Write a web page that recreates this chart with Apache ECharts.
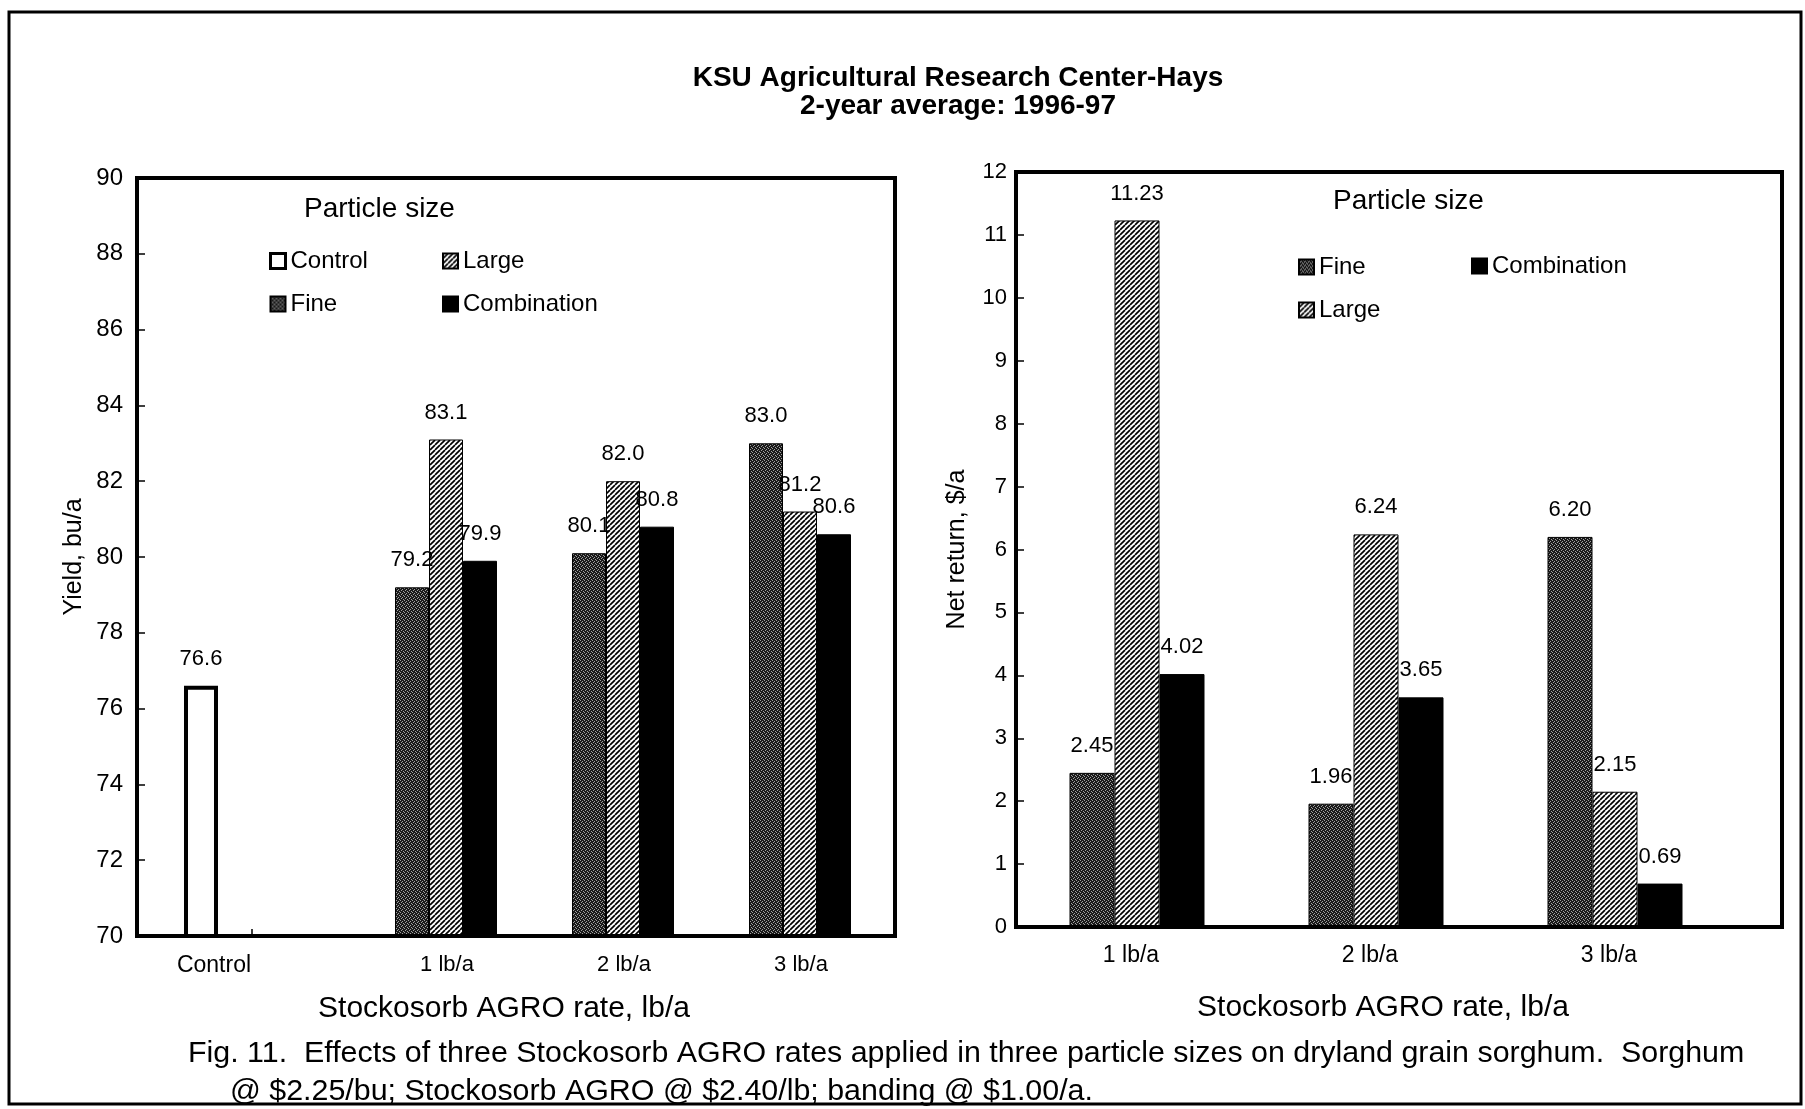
<!DOCTYPE html>
<html>
<head>
<meta charset="utf-8">
<script src="https://cdn.jsdelivr.net/npm/echarts@6/dist/echarts.min.js"></script>
<style>
html,body{margin:0;padding:0;background:#fff;}
#chart{width:1805px;height:1109px;}
</style>
</head>
<body>
<div id="chart"></div>
<script>
// ---- Data ----
const leftCategories = ['Control', '1 lb/a', '2 lb/a', '3 lb/a'];
const leftControl = [76.6, null, null, null];
const leftFine = [null, 79.2, 80.1, 83.0];
const leftLarge = [null, 83.1, 82.0, 81.2];
const leftCombination = [null, 79.9, 80.8, 80.6];

const rightCategories = ['1 lb/a', '2 lb/a', '3 lb/a'];
const rightFine = [2.45, 1.96, 6.20];
const rightLarge = [11.23, 6.24, 2.15];
const rightCombination = [4.02, 3.65, 0.69];

const leftYTicks = [70, 72, 74, 76, 78, 80, 82, 84, 86, 88, 90];
const rightYTicks = [0, 1, 2, 3, 4, 5, 6, 7, 8, 9, 10, 11, 12];

const titleLines = ['KSU Agricultural Research Center-Hays', '2-year average: 1996-97'];
const captionLines = [
  'Fig. 11.  Effects of three Stockosorb AGRO rates applied in three particle sizes on dryland grain sorghum.  Sorghum',
  '@ $2.25/bu; Stockosorb AGRO @ $2.40/lb; banding @ $1.00/a.'
];

// ---- Patterns ----
function hatchPattern() {
  const c = document.createElement('canvas');
  c.width = 5; c.height = 5;
  const g = c.getContext('2d');
  g.fillStyle = '#fff'; g.fillRect(0, 0, 5, 5);
  g.strokeStyle = '#000'; g.lineWidth = 1.7;
  [-5, 0, 5].forEach(o => { g.beginPath(); g.moveTo(o, 5); g.lineTo(o + 5, 0); g.stroke(); });
  return c;
}
function stipplePattern() {
  const c = document.createElement('canvas');
  c.width = 4; c.height = 4;
  const g = c.getContext('2d');
  g.fillStyle = '#1a1a1a'; g.fillRect(0, 0, 4, 4);
  g.fillStyle = '#a0a0a0';
  [[0, 0], [2, 1], [1, 2], [3, 3]].forEach(p => g.fillRect(p[0], p[1], 1, 1));
  return c;
}
const hatch = { image: hatchPattern(), repeat: 'repeat' };
const stipple = { image: stipplePattern(), repeat: 'repeat' };

const FONT = '"Liberation Sans", Arial, Helvetica, sans-serif';

const styles = {
  Control: { color: '#fff', borderColor: '#000', borderWidth: 4 },
  Fine: { color: stipple, borderColor: '#000', borderWidth: 1 },
  Large: { color: hatch, borderColor: '#000', borderWidth: 1 },
  Combination: { color: '#000', borderColor: '#000', borderWidth: 1 }
};

function lbl(dec) {
  return { show: true, position: 'top', distance: 16, color: '#000', fontSize: 22, fontFamily: FONT,
    formatter: p => (p.value == null ? '' : Number(p.value).toFixed(dec)) };
}

function leftBar(name, data) {
  return { type: 'bar', name, data, xAxisIndex: 1, yAxisIndex: 1, barWidth: 34, barGap: '0%',
    itemStyle: styles[name], label: lbl(1) };
}
function rightBar(name, data) {
  return { type: 'bar', name, data, xAxisIndex: 3, yAxisIndex: 3, barWidth: 45, barGap: '0%',
    itemStyle: styles[name], label: lbl(2) };
}

const frameX = { type: 'value', min: 0, max: 1, z: 10,
  axisLine: { show: true, lineStyle: { color: '#000', width: 4 } },
  axisTick: { show: false }, axisLabel: { show: false }, splitLine: { show: false } };

function legendCol(left, top, names) {
  return { orient: 'vertical', left, top, itemWidth: 15, itemHeight: 15, itemGap: 19, icon: 'rect',
    selectedMode: false, padding: 0,
    textStyle: { fontSize: 24, color: '#000', fontFamily: FONT },
    data: names.map(n => n === 'Control'
      ? { name: n, itemStyle: { color: '#fff', borderColor: '#000', borderWidth: 3 } }
      : { name: n }) };
}

const chart = echarts.init(document.getElementById('chart'), null, { renderer: 'canvas' });
chart.setOption({
  animation: false,
  backgroundColor: '#fff',
  textStyle: { fontFamily: FONT, color: '#000' },
  grid: [
    { left: 137, top: 178, width: 758, height: 758, show: true, borderColor: '#000', borderWidth: 4, backgroundColor: 'transparent' },
    { left: 163.5, top: 178, width: 708, height: 758 },
    { left: 1016, top: 172, width: 766, height: 755, show: true, borderColor: '#000', borderWidth: 4, backgroundColor: 'transparent' },
    { left: 1017.5, top: 172, width: 717, height: 755 }
  ],
  xAxis: [
    Object.assign({ gridIndex: 0 }, frameX),
    { gridIndex: 1, type: 'category', data: leftCategories,
      axisLine: { show: false },
      axisTick: { show: true, inside: true, alignWithLabel: true, length: 7, lineStyle: { color: '#000', width: 1.5 } },
      axisLabel: { margin: 18, color: '#000', fontSize: 22, fontFamily: FONT,
        formatter: (v, i) => i === 0 ? '{c|' + v + '}' : '{r|' + v + '}',
        rich: { c: { fontSize: 23, padding: [0, 76, 0, 0] }, r: { fontSize: 22, padding: [0, 0, 0, 36] } } },
      name: 'Stockosorb AGRO rate, lb/a', nameLocation: 'middle', nameGap: 58,
      nameTextStyle: { fontSize: 30, color: '#000', fontFamily: FONT, padding: [0, 27, 0, 0] } },
    Object.assign({ gridIndex: 2 }, frameX),
    { gridIndex: 3, type: 'category', data: rightCategories,
      axisLine: { show: false }, axisTick: { show: false },
      axisLabel: { margin: 17, color: '#000', fontSize: 23, fontFamily: FONT,
        formatter: v => '{r|' + v + '}', rich: { r: { fontSize: 23, padding: [0, 12, 0, 0] } } },
      name: 'Stockosorb AGRO rate, lb/a', nameLocation: 'middle', nameGap: 66,
      nameTextStyle: { fontSize: 30, color: '#000', fontFamily: FONT, padding: [0, 0, 0, 14] } }
  ],
  yAxis: [
    { gridIndex: 0, type: 'value', min: leftYTicks[0], max: leftYTicks[leftYTicks.length - 1], interval: 2, z: 10,
      axisLine: { show: true, lineStyle: { color: '#000', width: 4 } },
      axisTick: { show: true, inside: true, length: 8, lineStyle: { color: '#000', width: 1.5 } },
      axisLabel: { margin: 14, color: '#000', fontSize: 24, fontFamily: FONT },
      splitLine: { show: false },
      name: 'Yield, bu/a', nameLocation: 'middle', nameGap: 50,
      nameTextStyle: { fontSize: 25, color: '#000', fontFamily: FONT } },
    { gridIndex: 1, type: 'value', min: 70, max: 90, interval: 2, show: false, splitLine: { show: false } },
    { gridIndex: 2, type: 'value', min: rightYTicks[0], max: rightYTicks[rightYTicks.length - 1], interval: 1, z: 10,
      axisLine: { show: true, lineStyle: { color: '#000', width: 4 } },
      axisTick: { show: true, inside: true, length: 8, lineStyle: { color: '#000', width: 1.5 } },
      axisLabel: { margin: 9, color: '#000', fontSize: 22, fontFamily: FONT },
      splitLine: { show: false },
      name: 'Net return, $/a', nameLocation: 'middle', nameGap: 46,
      nameTextStyle: { fontSize: 25, color: '#000', fontFamily: FONT } },
    { gridIndex: 3, type: 'value', min: 0, max: 12, interval: 1, show: false, splitLine: { show: false } }
  ],
  legend: [
    legendCol(269, 249, ['Control', 'Fine']),
    legendCol(442, 249, ['Large', 'Combination']),
    legendCol(1298, 255, ['Fine', 'Large']),
    legendCol(1471, 254, ['Combination'])
  ],
  series: [
    leftBar('Control', leftControl),
    leftBar('Fine', leftFine),
    leftBar('Large', leftLarge),
    leftBar('Combination', leftCombination),
    rightBar('Fine', rightFine),
    rightBar('Large', rightLarge),
    rightBar('Combination', rightCombination)
  ],
  graphic: [
    { type: 'rect', silent: true, shape: { x: 9, y: 12, width: 1792, height: 1092 },
      style: { fill: 'none', stroke: '#000', lineWidth: 3 } },
    { type: 'text', x: 958, y: 78, silent: true,
      style: { text: titleLines[0], fontSize: 28, fontWeight: 'bold', fontFamily: FONT, fill: '#000', align: 'center', verticalAlign: 'middle' } },
    { type: 'text', x: 958, y: 106, silent: true,
      style: { text: titleLines[1], fontSize: 28, fontWeight: 'bold', fontFamily: FONT, fill: '#000', align: 'center', verticalAlign: 'middle' } },
    { type: 'text', x: 304, y: 209, silent: true,
      style: { text: 'Particle size', fontSize: 28, fontFamily: FONT, fill: '#000', align: 'left', verticalAlign: 'middle' } },
    { type: 'text', x: 1333, y: 201, silent: true,
      style: { text: 'Particle size', fontSize: 28, fontFamily: FONT, fill: '#000', align: 'left', verticalAlign: 'middle' } },
    { type: 'text', x: 188, y: 1054, silent: true,
      style: { text: captionLines[0], fontSize: 30.4, fontFamily: FONT, fill: '#000', align: 'left', verticalAlign: 'middle' } },
    { type: 'text', x: 230, y: 1092, silent: true,
      style: { text: captionLines[1], fontSize: 30.4, fontFamily: FONT, fill: '#000', align: 'left', verticalAlign: 'middle' } }
  ]
});
</script>
</body>
</html>
